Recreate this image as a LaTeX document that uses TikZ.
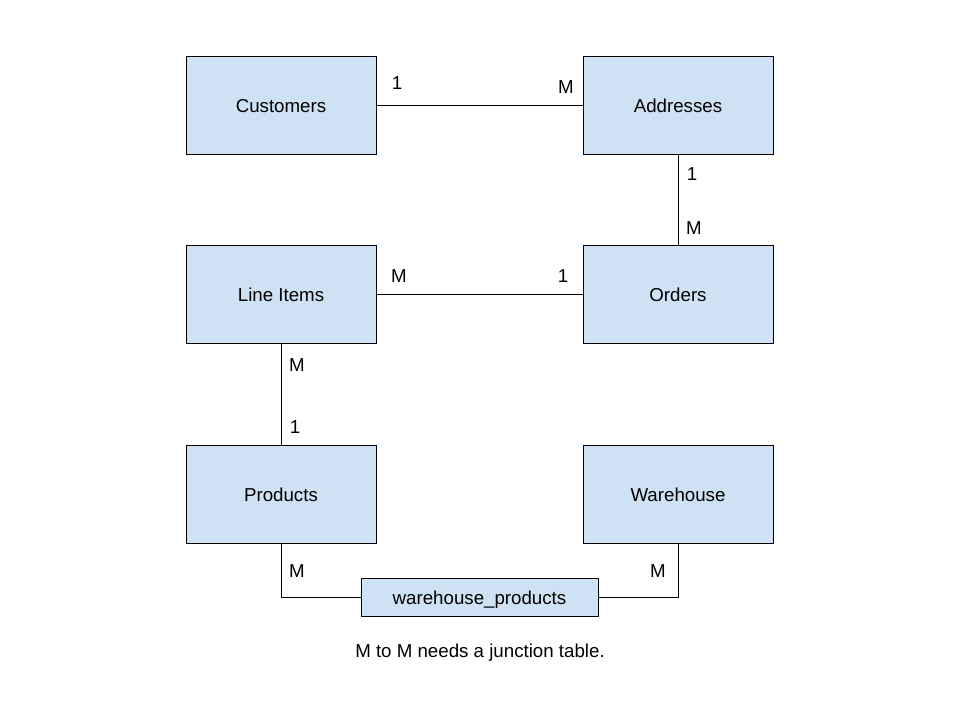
\documentclass[tikz,border=0pt]{standalone}
\usepackage{fontspec}
\setmainfont{Liberation Sans}
\definecolor{tablefill}{HTML}{CFE2F3}
\begin{document}
\begin{tikzpicture}[x=0.025cm, y=-0.025cm, thin, font=\fontsize{13.3}{15}\selectfont,
  table node/.style={rectangle,draw=black,fill=tablefill,minimum width=4.75cm,minimum height=2.45cm,inner sep=0pt,text height=10.4pt,text depth=0pt},
  junction node/.style={rectangle,draw=black,fill=tablefill,minimum width=5.925cm,minimum height=0.95cm,inner sep=0pt,text height=10.4pt,text depth=0pt},
  card/.style={inner sep=0pt}]
\useasboundingbox[fill=white] (0,0) rectangle (960,720);
\begin{scope}
\node[table node] (t1) at (281,105) {Customers};
\node[table node] (t2) at (678,105) {Addresses};
\node[table node] (t3) at (281,294.5) {Line Items};
\node[table node] (t4) at (678,294.5) {Orders};
\node[table node] (t5) at (281,494) {Products};
\node[table node] (t6) at (678,494) {Warehouse};
\node[junction node] (t7) at (479.5,597) {warehouse\_products};
\coordinate (c1) at (281,597);
\coordinate (c2) at (678,597);
\end{scope}
\begin{scope}
\draw (t1) -- (t2);
\draw (t2) -- (t4);
\draw (t3) -- (t4);
\draw (t3) -- (t5);
\draw (t5.south) -- (c1) -- (t7.west);
\draw (t6.south) -- (c2) -- (t7.east);
\end{scope}
\begin{scope}[every node/.style={card}]
\node (m1) at (397,83) {1};
\node (m2) at (566,87) {M};
\node (m3) at (692,174) {1};
\node (m4) at (694,228) {M};
\node (m5) at (399,276) {M};
\node (m6) at (563,276) {1};
\node (m7) at (297,365) {M};
\node (m8) at (295,427) {1};
\node (m9) at (297,571) {M};
\node (m10) at (658,571) {M};
\node (note) at (480,652.5) {M to M needs a junction table.};
\end{scope}
\end{tikzpicture}
\end{document}
